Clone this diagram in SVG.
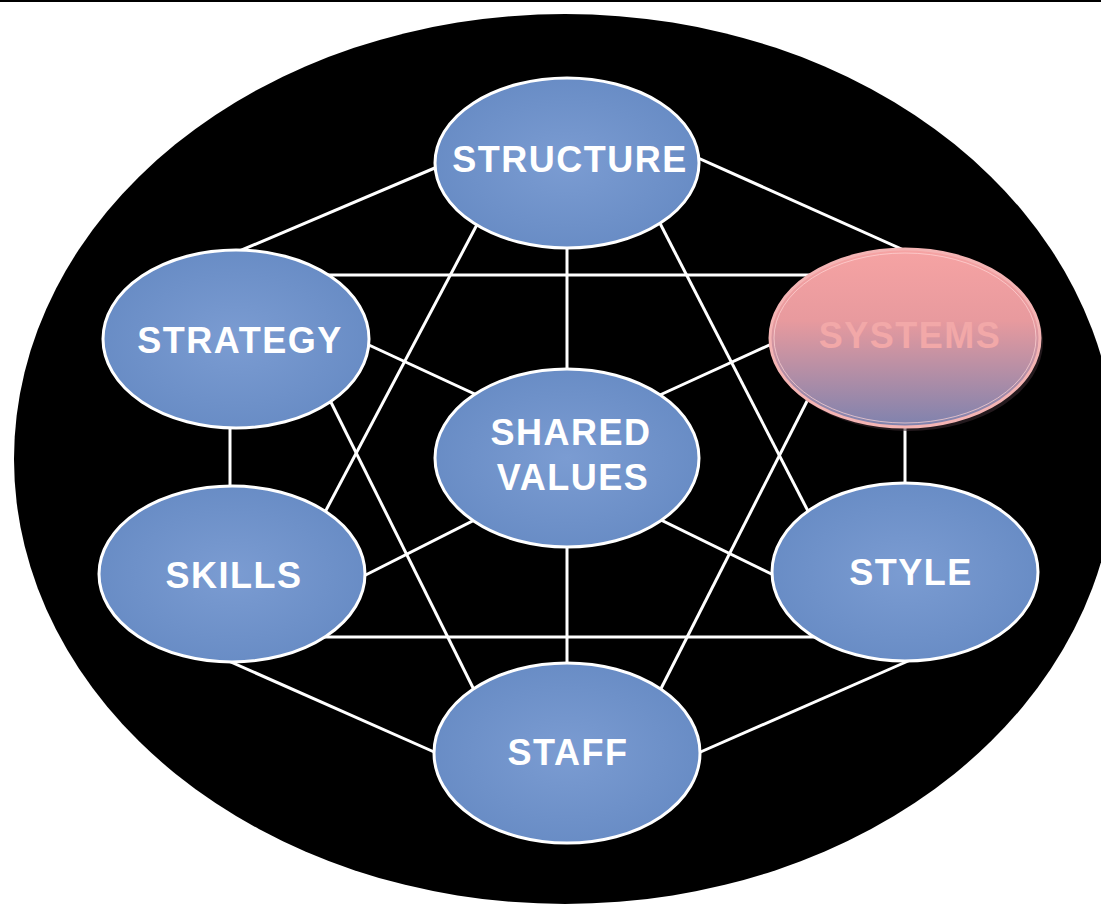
<svg xmlns="http://www.w3.org/2000/svg" width="1101" height="905" viewBox="0 0 1101 905">
<defs>
<radialGradient id="blue" cx="50%" cy="50%" r="55%">
<stop offset="0" stop-color="#7B9CD2"/>
<stop offset="1" stop-color="#678BC4"/>
</radialGradient>
<linearGradient id="pink" x1="0" y1="0" x2="0" y2="1">
<stop offset="0" stop-color="#F6A3A3"/>
<stop offset="0.4" stop-color="#E89A9E"/>
<stop offset="1" stop-color="#7E82AE"/>
</linearGradient>
<style>
.node{fill:url(#blue);stroke:#FFFFFF;stroke-width:3}
.lbl{font-family:"Liberation Sans",Arial,sans-serif;font-weight:bold;font-size:36px;fill:#FFFFFF;text-anchor:middle;letter-spacing:1.5px}
.conn line{stroke:#FFFFFF;stroke-width:3}
</style>
</defs>
<rect x="0" y="0" width="1101" height="905" fill="#FFFFFF"/>
<rect x="0" y="0" width="1101" height="2" fill="#000000"/>
<ellipse cx="565" cy="459" rx="551" ry="445" fill="#000000"/>
<g id="connectors" class="conn">
<line x1="230" y1="255" x2="470" y2="153"/>
<line x1="660" y1="141" x2="915" y2="255"/>
<line x1="905" y1="400" x2="905" y2="520"/>
<line x1="680" y1="761" x2="915" y2="658"/>
<line x1="215" y1="655" x2="450" y2="759"/>
<line x1="230" y1="400" x2="230" y2="520"/>
<line x1="490" y1="200" x2="305" y2="550"/>
<line x1="648" y1="200" x2="828" y2="550"/>
<line x1="300" y1="637" x2="840" y2="637"/>
<line x1="300" y1="275" x2="840" y2="275"/>
<line x1="305" y1="350" x2="490" y2="722"/>
<line x1="833" y1="350" x2="644" y2="722"/>
<line x1="567" y1="200" x2="567" y2="720"/>
<line x1="330" y1="327" x2="520" y2="415"/>
<line x1="800" y1="331" x2="614" y2="416"/>
<line x1="330" y1="593" x2="520" y2="497"/>
<line x1="800" y1="588" x2="614" y2="497"/>
</g>
<g id="structure">
<ellipse class="node" cx="567" cy="163" rx="132" ry="85"/>
<text class="lbl" x="570" y="172">STRUCTURE</text>
</g>
<g id="strategy">
<ellipse class="node" cx="236" cy="339" rx="133" ry="89"/>
<text class="lbl" x="240" y="353">STRATEGY</text>
</g>
<g id="systems">
<ellipse cx="908" cy="342" rx="135" ry="89" fill="#3a2a30" opacity="0.6"/>
<ellipse cx="905" cy="338" rx="135" ry="89" fill="url(#pink)" stroke="#F4B4B4" stroke-width="3"/>
<ellipse cx="905" cy="338" rx="131" ry="85" fill="none" stroke="#FFD6D6" stroke-width="1" opacity="0.7"/>
<text class="lbl" x="910" y="348" style="fill:#F2A8A8">SYSTEMS</text>
</g>
<g id="shared-values">
<ellipse class="node" cx="567" cy="458" rx="132" ry="89"/>
<text class="lbl" x="571" y="445">SHARED</text>
<text class="lbl" x="573" y="490">VALUES</text>
</g>
<g id="skills">
<ellipse class="node" cx="232" cy="574" rx="133" ry="88"/>
<text class="lbl" x="234" y="588">SKILLS</text>
</g>
<g id="style">
<ellipse class="node" cx="905" cy="572" rx="133" ry="89"/>
<text class="lbl" x="911" y="585">STYLE</text>
</g>
<g id="staff">
<ellipse class="node" cx="567" cy="753" rx="133" ry="90"/>
<text class="lbl" x="568" y="765">STAFF</text>
</g>
</svg>
